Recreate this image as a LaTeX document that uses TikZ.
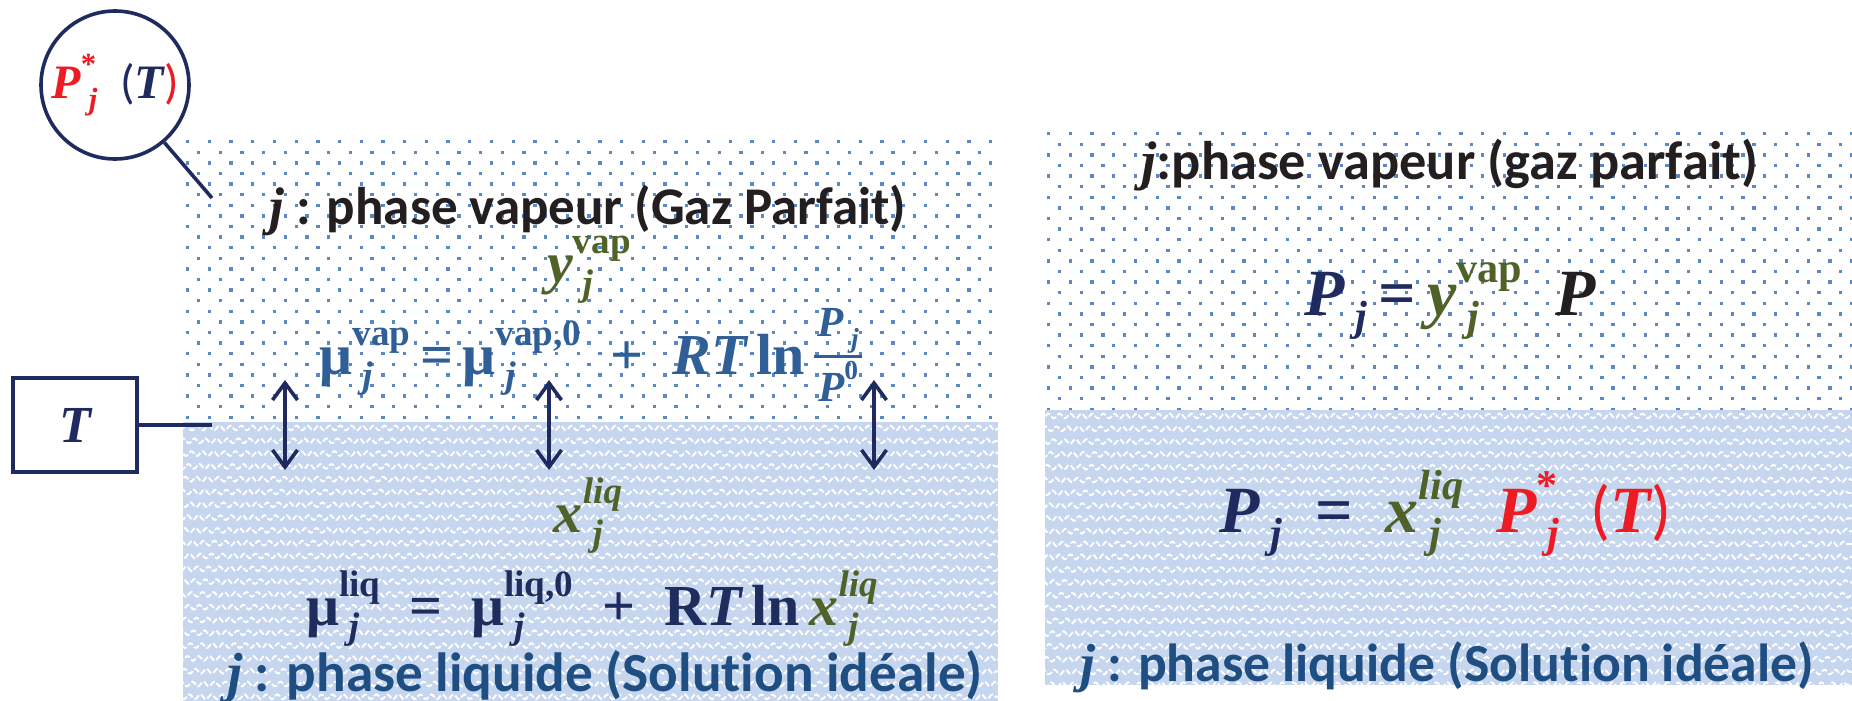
\documentclass[tikz,border=0pt]{standalone}
\usepackage{graphicx}
\usepackage{fontspec}
\setmainfont{Carlito}[Ligatures=NoCommon]
\newfontfamily\mfont{Liberation Serif}
\usetikzlibrary{arrows.meta,decorations.pathmorphing}
\definecolor{navy}{HTML}{1F2B5E}
\definecolor{headblack}{HTML}{231F20}
\definecolor{vapblue}{HTML}{2F5F96}
\definecolor{liqnavy}{HTML}{1F2D5E}
\definecolor{molgreen}{HTML}{4F6228}
\definecolor{pred}{HTML}{ED1C24}
\definecolor{labblue}{HTML}{1F4E82}
\definecolor{dotblue}{HTML}{5A8AC6}
\definecolor{liqbg}{HTML}{C6D6EE}
\newcommand{\vbi}[1]{{\mfont\bfseries\itshape #1}}
\newcommand{\vbu}[1]{{\mfont\bfseries #1}}
\newcommand{\jj}{{\mfont\bfseries\itshape j}}
\newsavebox\mysupbox
\newsavebox\mysubbox
\newcommand{\supsub}[2]{%
  \sbox\mysupbox{\scalebox{0.64}{#1}}\sbox\mysubbox{\scalebox{0.64}{#2}}%
  \ifdim\wd\mysupbox>\wd\mysubbox
    \rlap{\raisebox{-0.24em}{\,\usebox\mysubbox}}\raisebox{0.5em}{\usebox\mysupbox}%
  \else
    \rlap{\raisebox{0.5em}{\usebox\mysupbox}}\raisebox{-0.24em}{\,\usebox\mysubbox}%
  \fi}
\newsavebox\numbox
\newsavebox\denbox
\newlength\fracw
\newcommand{\smallfrac}[2]{%
  \sbox\numbox{\scalebox{0.74}{#1}}\sbox\denbox{\scalebox{0.74}{#2}}%
  \setlength\fracw{\wd\numbox}%
  \ifdim\wd\denbox>\fracw\setlength\fracw{\wd\denbox}\fi
  \addtolength\fracw{0.12em}%
  \rlap{\raisebox{0.64em}{\makebox[\fracw]{\usebox\numbox}}}%
  \rlap{\rule[0.27em]{\fracw}{0.065em}}%
  \raisebox{-0.47em}{\makebox[\fracw]{\usebox\denbox}}}
\newcommand{\circtext}{{\color{pred}\vbi{P}\supsub{\vbu{*}}{\vbi{j}}}\enspace{\color{navy}(\vbi{T}}{\color{pred})}}
\tikzset{
  ringnode/.style={draw=navy, line width=1.8pt, shape=circle, minimum size=74pt, inner sep=0pt},
  tempbox/.style={draw=navy, line width=1.8pt, shape=rectangle, minimum width=62pt, minimum height=47pt, inner sep=0pt},
  linkline/.style={draw=navy, line width=1.8pt},
  dblarrow/.style={draw=navy, line width=1.8pt, {Straight Barb[length=8.5pt,width=12.5pt]}-{Straight Barb[length=8.5pt,width=12.5pt]}},
  headtext/.style={font=\fontsize{27}{31}\selectfont\bfseries},
  eqtext/.style={font=\fontsize{29}{33}\selectfont, anchor=base},
  bigeq/.style={font=\fontsize{33}{38}\selectfont, anchor=base},
  waves/.style={draw=white, line width=0.95pt, dash pattern=on 3pt off 1.2pt, decorate, decoration={snake,segment length=5.5pt,amplitude=1.2pt}},
}
\begin{document}
\begin{tikzpicture}[x=0.5pt,y=-0.5pt]
\useasboundingbox (0,0) rectangle (1852,701);
% ---------- left panel ----------
\fill[liqbg] (183,422) rectangle (998,701);
\begin{scope}
\clip (183,422) rectangle (998,701);
\foreach \rr in {0,...,21} {
  \draw[waves] ({183-\rr*3},{428+\rr*12.8}) -- (1000,{428+\rr*12.8});
}
\end{scope}
\begin{scope}
\clip (183,139) rectangle (998,421);
\foreach \rr in {0,...,26} {
  \foreach \cc in {0,...,37} {
    \fill[dotblue] ({186+\cc*21.7+mod(\rr,2)*10.85},{140+\rr*10.6}) rectangle +(3.3,3.3);
  }
}
\end{scope}
% ---------- right panel ----------
\fill[liqbg] (1045,410) rectangle (1852,685);
\begin{scope}
\clip (1045,410) rectangle (1852,685);
\foreach \rr in {0,...,21} {
  \draw[waves] ({1045-\rr*3},{416+\rr*12.8}) -- (1852,{416+\rr*12.8});
}
\end{scope}
\begin{scope}
\clip (1045,131) rectangle (1852,409);
\foreach \rr in {0,...,26} {
  \foreach \cc in {0,...,37} {
    \fill[dotblue] ({1047+\cc*21.7+mod(\rr,2)*10.85},{132+\rr*10.6}) rectangle +(3.3,3.3);
  }
}
\end{scope}
% ---------- circle and T box ----------
\node[ringnode, font=\fontsize{24}{28}\selectfont] (pstar) at (115,85) {\circtext};
\coordinate (cA) at (212,198);
\draw[linkline] (pstar) -- (cA);
\node[tempbox, font=\fontsize{26}{30}\selectfont, text=navy] (tbox) at (75,425) {\vbi{T}};
\coordinate (cT) at (212,425);
\draw[linkline] (tbox.east) -- (cT);
% ---------- arrows ----------
\coordinate (a1t) at (285,380); \coordinate (a1b) at (285,470);
\coordinate (a2t) at (549,380); \coordinate (a2b) at (549,470);
\coordinate (a3t) at (874,380); \coordinate (a3b) at (874,470);
\draw[dblarrow] (a1t) -- (a1b);
\draw[dblarrow] (a2t) -- (a2b);
\draw[dblarrow] (a3t) -- (a3b);
% ---------- left texts ----------
\node[headtext, text=headblack, font=\fontsize{26.5}{31}\selectfont\bfseries] (hvap) at (588,210) {\jj\ : phase vapeur (Gaz Parfait)};
\node[eqtext, text=molgreen] (yvap) at (589,282) {\vbi{y}\supsub{\vbu{vap}}{\vbi{j}}};
\node[eqtext, text=vapblue] (muvap) at (591,374) {\vbu{μ}\supsub{\vbu{vap}}{\vbi{j}}\,\vbu{=}\,\vbu{μ}\supsub{\vbu{vap,0}}{\vbi{j}}\enspace\vbu{+}\enspace\vbi{RT}\,\vbu{ln}\,\smallfrac{\vbi{P}\supsub{}{\vbi{j}}}{\vbi{P}\supsub{\vbu{0}}{}}};
\node[eqtext, text=molgreen] (xliq) at (588,532) {\vbi{x}\supsub{\vbi{liq}}{\vbi{j}}};
\node[eqtext, text=liqnavy] (muliq) at (592,625) {\vbu{μ}\supsub{\vbu{liq}}{\vbi{j}}\enspace\vbu{=}\enspace\vbu{μ}\supsub{\vbu{liq,0}}{\vbi{j}}\enspace\vbu{+}\enspace\vbu{R}\vbi{T}\,\vbu{ln}\,{\color{molgreen}\vbi{x}\supsub{\vbi{liq}}{\vbi{j}}}};
\node[headtext, text=labblue, font=\fontsize{27.6}{31}\selectfont\bfseries] (lliq) at (605,677) {\jj\ : phase liquide (Solution idéale)};
% ---------- right texts ----------
\node[headtext, text=headblack, font=\fontsize{27.2}{31}\selectfont\bfseries] (rvap) at (1450,165) {\jj:phase vapeur (gaz parfait)};
\node[bigeq, text=navy] (pyp) at (1450,315) {\vbi{P}\supsub{}{\vbi{j}}\,\vbu{=}\,{\color{molgreen}\vbi{y}\supsub{\vbu{vap}}{\vbi{j}}}\enspace{\color{headblack}\vbi{P}}};
\node[bigeq, text=navy] (pxp) at (1445,532) {\vbi{P}\supsub{}{\vbi{j}}\enspace\vbu{=}\enspace{\color{molgreen}\vbi{x}\supsub{\vbi{liq}}{\vbi{j}}}\enspace{\color{pred}\vbi{P}\supsub{\vbu{*}}{\vbi{j}}\enspace(\vbi{T})}};
\node[headtext, text=labblue, font=\fontsize{26.8}{31}\selectfont\bfseries] (rliq) at (1447,667) {\jj\ : phase liquide (Solution idéale)};
\end{tikzpicture}
\end{document}
